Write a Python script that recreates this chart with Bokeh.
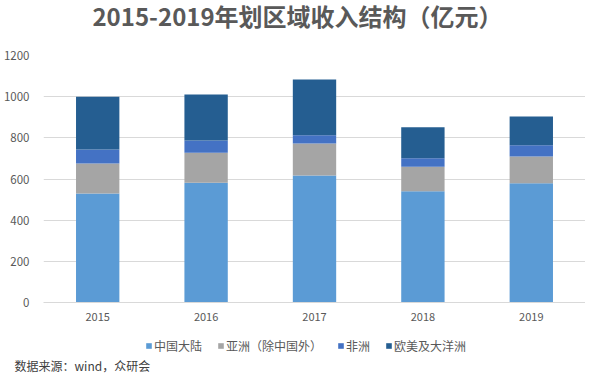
from bokeh.plotting import figure
from bokeh.layouts import column
from bokeh.models import ColumnDataSource, Legend, LegendItem, FixedTicker, Range1d, FactorRange, Title
from bokeh.core.properties import value
from bokeh.embed import file_html
from bokeh.resources import INLINE

years = ["2015", "2016", "2017", "2018", "2019"]
series_names = ["中国大陆", "亚洲（除中国外）", "非洲", "欧美及大洋洲"]
mainland = [530, 582, 617, 540, 579]
asia_ex_china = [145, 146, 156, 120, 130]
africa = [68, 59, 39, 41, 55]
europe_america_oceania = [257, 224, 272, 151, 140]
y_ticks = [0, 200, 400, 600, 800, 1000, 1200]
title_text = "2015-2019年划区域收入结构（亿元）"
source_text = "数据来源：wind，众研会"

colors = ["#5B9BD5", "#A5A5A5", "#4472C4", "#255E91"]
keys = ["mainland", "asia", "africa", "eao"]

source = ColumnDataSource(dict(year=years, mainland=mainland, asia=asia_ex_china,
                               africa=africa, eao=europe_america_oceania))

FONT = "Noto Sans CJK SC"
TXT = "#595959"
W = 585
LEFT = 42
FW = W - LEFT  # frame width (frames are aligned in the column)


def blank(h):
    f = figure(width=W, height=h, x_range=Range1d(0, FW), y_range=Range1d(h, 0),
               x_axis_type=None, y_axis_type=None, output_backend="svg", toolbar_location=None,
               min_border=0, min_border_left=LEFT)
    f.outline_line_color = None
    f.xgrid.visible = False
    f.ygrid.visible = False
    f.background_fill_color = "white"
    f.border_fill_color = "white"
    return f


# --- title strip ---
top = blank(45)
top.text(x=[254.5], y=[15], text=[title_text], text_align="center", text_baseline="middle",
         text_font=value(FONT), text_font_size="24px", text_font_style="bold", text_color=TXT)

# --- chart ---
p = figure(x_range=FactorRange(*years, range_padding=0), y_range=Range1d(0, 1200),
           width=W, height=285, output_backend="svg", toolbar_location=None,
           min_border_left=LEFT, min_border_right=0, min_border_top=10, min_border_bottom=28)
p.outline_line_color = None
p.background_fill_color = "white"
p.border_fill_color = "white"

renderers = p.vbar_stack(keys, x="year", width=0.4, color=colors, line_color=None, source=source)

p.xgrid.grid_line_color = None
p.ygrid.grid_line_color = "#D9D9D9"
p.ygrid.grid_line_width = 1

p.yaxis.ticker = FixedTicker(ticks=y_ticks)
p.yaxis.axis_line_color = None
p.yaxis.major_tick_line_color = None
p.yaxis.minor_tick_line_color = None
p.yaxis.major_label_text_font = FONT
p.yaxis.major_label_text_font_size = "11.5px"
p.yaxis.major_label_text_color = TXT
p.yaxis.major_label_standoff = 8

p.xaxis.axis_line_color = "#D9D9D9"
p.xaxis.major_tick_line_color = None
p.xaxis.minor_tick_line_color = None
p.xaxis.major_label_text_font = FONT
p.xaxis.major_label_text_font_size = "11px"
p.xaxis.major_label_text_color = TXT
p.xaxis.major_label_standoff = 4

# --- legend + source strip ---
bot = blank(43)
nan = float("nan")
legend_renderers = [bot.vbar(x=[nan], top=[nan], width=1, color=c, line_color=None) for c in colors]
legend = Legend(items=[LegendItem(label=n, renderers=[r]) for n, r in zip(series_names, legend_renderers)],
                orientation="horizontal", location=(102, 0))
legend.border_line_color = None
legend.background_fill_alpha = 0
legend.label_text_font = FONT
legend.label_text_font_size = "12px"
legend.label_text_color = TXT
legend.glyph_width = 7
legend.glyph_height = 7
legend.label_standoff = 2
legend.spacing = 15
legend.padding = 0
legend.margin = 0
legend.label_height = 12
bot.add_layout(legend, "center")

src = Title(text=source_text, align="left", text_font=FONT, text_font_size="12px",
            text_color="#404040", text_font_style="normal", offset=-29, standoff=0)
bot.add_layout(src, "below")

layout = column(top, p, bot, spacing=0)
open("out.html", "w").write(file_html(layout, INLINE))
